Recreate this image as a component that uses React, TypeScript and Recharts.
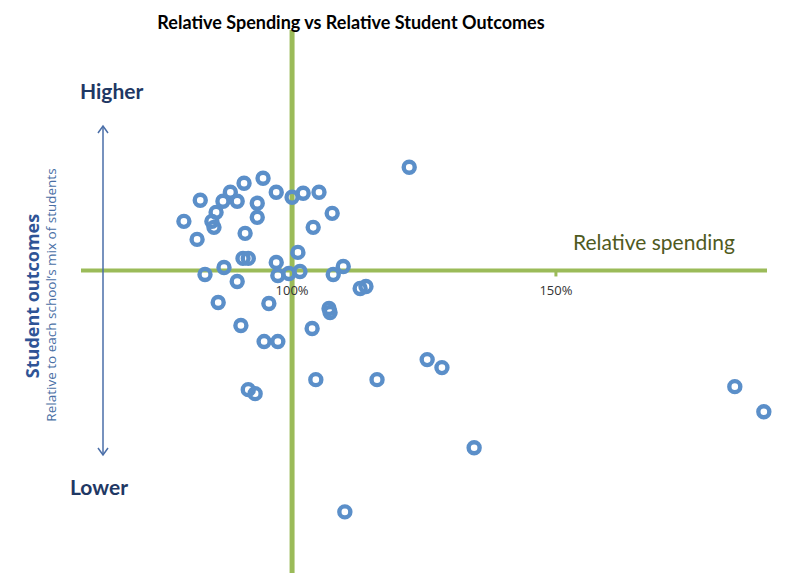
import { ScatterChart, Scatter, XAxis, YAxis, ReferenceLine, ReferenceDot } from 'recharts';

// relative spending (% of expected) per school
const spending = [
  82.6, 79.5, 82.0, 84.8, 85.2, 85.6, 86.9, 88.3, 89.6, 90.9,
  94.5, 93.4, 93.4, 91.1, 97.0, 100.0, 102.1, 105.1, 107.6, 104.0,
  101.1, 90.7, 91.7, 97.0, 87.1, 83.5, 89.6, 97.3, 99.4, 101.5,
  107.8, 109.7, 122.2, 112.9, 114.0, 86.0, 95.6, 107.0, 107.2, 90.3,
  103.8, 94.7, 97.3, 104.5, 91.7, 93.0, 116.1, 125.6, 128.4, 134.5,
  183.9, 189.4, 110.0,
];

// relative student outcome (above / below expected)
const outcome = [
  0.70, 0.49, 0.31, 0.49, 0.43, 0.58, 0.69, 0.78, 0.69, 0.87,
  0.92, 0.67, 0.53, 0.37, 0.78, 0.73, 0.77, 0.78, 0.57, 0.43,
  0.18, 0.12, 0.12, 0.08, 0.03, -0.04, -0.11, -0.05, -0.03, -0.01,
  -0.04, 0.04, 1.03, -0.18, -0.16, -0.32, -0.33, -0.38, -0.42, -0.55,
  -0.58, -0.71, -0.71, -1.09, -1.19, -1.23, -1.09, -0.89, -0.97, -1.77,
  -1.16, -1.41, -2.41,
];

const xTicks = [100, 150];

const points = spending.map((x, i) => ({ x, y: outcome[i] }));

const GREEN = '#9bbb59';
const BLUE = '#5b8fc9';
const NAVY = '#1f3864';

const Ring = (props: any) => (
  <circle cx={props.cx} cy={props.cy} r={5.5} fill="none" stroke={BLUE} strokeWidth={4.4} />
);

const App = () => {
  return (
    <div style={{ position: 'absolute', left: 0, top: 0, width: 790, height: 581, background: '#fff' }}>
      <ScatterChart width={790} height={581} margin={{ top: 30, right: 23, bottom: 8, left: 81 }}>
        <XAxis type="number" dataKey="x" domain={[60, 190]} hide />
        <YAxis type="number" dataKey="y" domain={[-3.02, 2.4]} hide />
        <ReferenceLine y={0} stroke={GREEN} strokeWidth={4} />
        <ReferenceLine x={100} stroke={GREEN} strokeWidth={5} />
        <ReferenceLine segment={[{ x: 150, y: 0 }, { x: 150, y: -0.06 }]} stroke={GREEN} strokeWidth={3} />
        {xTicks.map(t => (
          <ReferenceDot
            key={t}
            x={t}
            y={0}
            r={0}
            fill="none"
            stroke="none"
            label={{ value: `${t}%`, position: 'bottom', offset: 15, fontSize: 13, fill: '#333', fontFamily: 'Open Sans' }}
          />
        ))}
        <Scatter data={points} shape={Ring} isAnimationActive={false} />
      </ScatterChart>

      <svg width={790} height={581} style={{ position: 'absolute', left: 0, top: 0, pointerEvents: 'none' }}>
        <text x={351} y={29} textAnchor="middle" fontFamily="Lato" fontWeight="bold" fontSize={18} fill="#000">
          Relative Spending vs Relative Student Outcomes
        </text>
        <text x={80} y={99} fontFamily="Lato" fontWeight="bold" fontSize={21} fill={NAVY}>Higher</text>
        <text x={70} y={495} fontFamily="Lato" fontWeight="bold" fontSize={21} fill={NAVY}>Lower</text>
        <text x={573} y={250} fontFamily="Lato" fontSize={21} fill="#4f5a1e">Relative spending</text>

        <line x1={103} y1={126} x2={103} y2={455} stroke="#4a6ea8" strokeWidth={1.5} />
        <polyline points="98,133 103,126 108,133" fill="none" stroke="#4a6ea8" strokeWidth={1.5} />
        <polyline points="98,448 103,455 108,448" fill="none" stroke="#4a6ea8" strokeWidth={1.5} />

        <text x={39} y={296} transform="rotate(-90 39 296)" textAnchor="middle" fontFamily="Open Sans" fontWeight="bold" fontSize={18} fill="#2f5496">
          Student outcomes
        </text>
        <text x={56} y={295} transform="rotate(-90 56 295)" textAnchor="middle" fontFamily="Open Sans" fontSize={13.5} fill="#4a6fa5">
          Relative to each school’s mix of students
        </text>
      </svg>
    </div>
  );
};

export default App;
